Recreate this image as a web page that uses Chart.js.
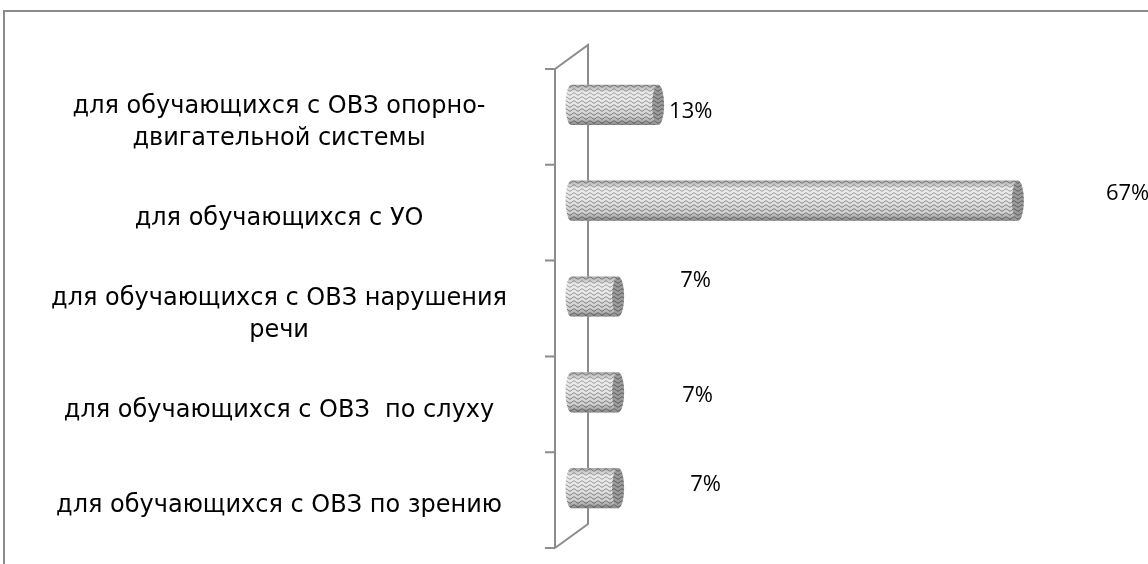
<!DOCTYPE html>
<html lang="ru">
<head>
<meta charset="utf-8">
<title>Обучающиеся с ОВЗ</title>
<script src="https://cdn.jsdelivr.net/npm/chart.js@4/dist/chart.umd.min.js"></script>
<style>
  html, body { margin: 0; padding: 0; background: #fff; }
  #wrap { width: 1148px; height: 564px; position: relative; }
</style>
</head>
<body>
<div id="wrap"><canvas id="chart" width="1148" height="564"></canvas></div>
<script>
// --- DATA ---
const categories = [
  ['для обучающихся с ОВЗ опорно-', 'двигательной системы'],
  'для обучающихся с УО',
  ['для обучающихся с ОВЗ нарушения', 'речи'],
  'для обучающихся с ОВЗ  по слуху',
  'для обучающихся с ОВЗ по зрению'
];
const percentValues = [13, 67, 7, 7, 7];
const axisMax = 80;

// --- layout tweaks (label nudges as Excel placed them, px) ---
const labelNudge = [[5, 7], [82, -7], [56, -16], [58, 3], [66, -3]];
const DEPTH_X = 33, DEPTH_Y = 24;
const LINE = '#8c8c8c';

// wavy texture for the cylinders
function makeTexture() {
  const c = document.createElement('canvas');
  c.width = 8; c.height = 4;
  const g = c.getContext('2d');
  g.fillStyle = '#e2e2e2';
  g.fillRect(0, 0, 8, 4);
  g.strokeStyle = '#5e5e5e';
  g.lineWidth = 0.9;
  g.beginPath();
  for (let x = 0; x <= 8; x += 0.5) {
    const y = 2 + 1.1 * Math.sin(2 * Math.PI * x / 8);
    if (x === 0) g.moveTo(x, y); else g.lineTo(x, y);
  }
  g.stroke();
  return c;
}

// --- frame + 3D walls, drawn before the bars ---
const wallsPlugin = {
  id: 'walls',
  beforeDatasetsDraw(chart) {
    const ctx = chart.ctx;
    const a = chart.chartArea;
    ctx.save();
    // outer chart border (runs off the right / bottom)
    ctx.strokeStyle = '#8a8a8a';
    ctx.lineWidth = 2;
    ctx.strokeRect(4, 11, chart.width + 20, chart.height + 20);

    ctx.strokeStyle = LINE;
    ctx.lineWidth = 2;
    ctx.beginPath();
    ctx.moveTo(a.left, a.top);
    ctx.lineTo(a.left, a.bottom);
    ctx.moveTo(a.left, a.top);
    ctx.lineTo(a.left + DEPTH_X, a.top - DEPTH_Y);
    ctx.lineTo(a.left + DEPTH_X, a.bottom - DEPTH_Y);
    ctx.lineTo(a.left, a.bottom);
    const n = categories.length;
    for (let i = 0; i <= n; i++) {
      const y = a.top + i * (a.bottom - a.top) / n;
      ctx.moveTo(a.left - 10, y);
      ctx.lineTo(a.left, y);
    }
    ctx.stroke();
    ctx.restore();
  }
};

// --- cylinders + value labels, drawn after the (invisible) bars ---
const cylinderPlugin = {
  id: 'cylinders',
  afterDatasetsDraw(chart) {
    const ctx = chart.ctx;
    const meta = chart.getDatasetMeta(0);
    const tex = ctx.createPattern(makeTexture(), 'repeat');
    ctx.save();
    meta.data.forEach((bar, i) => {
      const p = bar.getProps(['x', 'y', 'base', 'height'], true);
      const x0 = p.base + DEPTH_X / 2;
      const x1 = p.x + DEPTH_X / 2;
      const cy = p.y - DEPTH_Y / 2;
      const ry = p.height / 2;
      const rx = 6;
      const top = cy - ry, bottom = cy + ry;

      // body
      ctx.beginPath();
      ctx.moveTo(x0, top);
      ctx.lineTo(x1, top);
      ctx.lineTo(x1, bottom);
      ctx.lineTo(x0, bottom);
      ctx.ellipse(x0, cy, rx, ry, 0, Math.PI / 2, Math.PI * 3 / 2);
      ctx.closePath();
      ctx.fillStyle = tex;
      ctx.fill();
      const shade = ctx.createLinearGradient(0, top, 0, bottom);
      shade.addColorStop(0, 'rgba(60,60,60,0.35)');
      shade.addColorStop(0.2, 'rgba(255,255,255,0.3)');
      shade.addColorStop(0.5, 'rgba(255,255,255,0.15)');
      shade.addColorStop(0.8, 'rgba(60,60,60,0.1)');
      shade.addColorStop(1, 'rgba(40,40,40,0.5)');
      ctx.fillStyle = shade;
      ctx.fill();

      // end cap
      ctx.beginPath();
      ctx.ellipse(x1, cy, rx, ry, 0, 0, Math.PI * 2);
      ctx.fillStyle = tex;
      ctx.fill();
      ctx.fillStyle = 'rgba(50,50,50,0.4)';
      ctx.fill();

      // value label
      const nd = labelNudge[i];
      ctx.fillStyle = '#000';
      ctx.font = '22px "Open Sans", sans-serif';
      ctx.textAlign = 'left';
      ctx.textBaseline = 'middle';
      ctx.fillText(percentValues[i] + '%', x1 + rx + nd[0], cy + nd[1]);
    });
    ctx.restore();
  }
};

new Chart(document.getElementById('chart'), {
  type: 'bar',
  data: {
    labels: categories,
    datasets: [{
      data: percentValues,
      backgroundColor: 'rgba(0,0,0,0)',
      borderWidth: 0,
      categoryPercentage: 1,
      barPercentage: 0.42
    }]
  },
  options: {
    indexAxis: 'y',
    responsive: false,
    animation: false,
    layout: { padding: { top: 69, right: 60, bottom: 16, left: 0 } },
    plugins: { legend: { display: false }, tooltip: { enabled: false } },
    scales: {
      x: { display: false, min: 0, max: axisMax },
      y: {
        grid: { display: false, drawTicks: false },
        border: { display: false },
        afterFit(scale) {
          scale.width = 555;
          scale.paddingTop = 0;
          scale.paddingBottom = 0;
        },
        ticks: {
          color: '#000',
          font: { family: '"DejaVu Sans", Verdana, sans-serif', size: 24, lineHeight: 1.35 },
          crossAlign: 'center',
          padding: 48,
          labelOffset: 6,
          autoSkip: false
        }
      }
    }
  },
  plugins: [wallsPlugin, cylinderPlugin]
});
</script>
</body>
</html>
